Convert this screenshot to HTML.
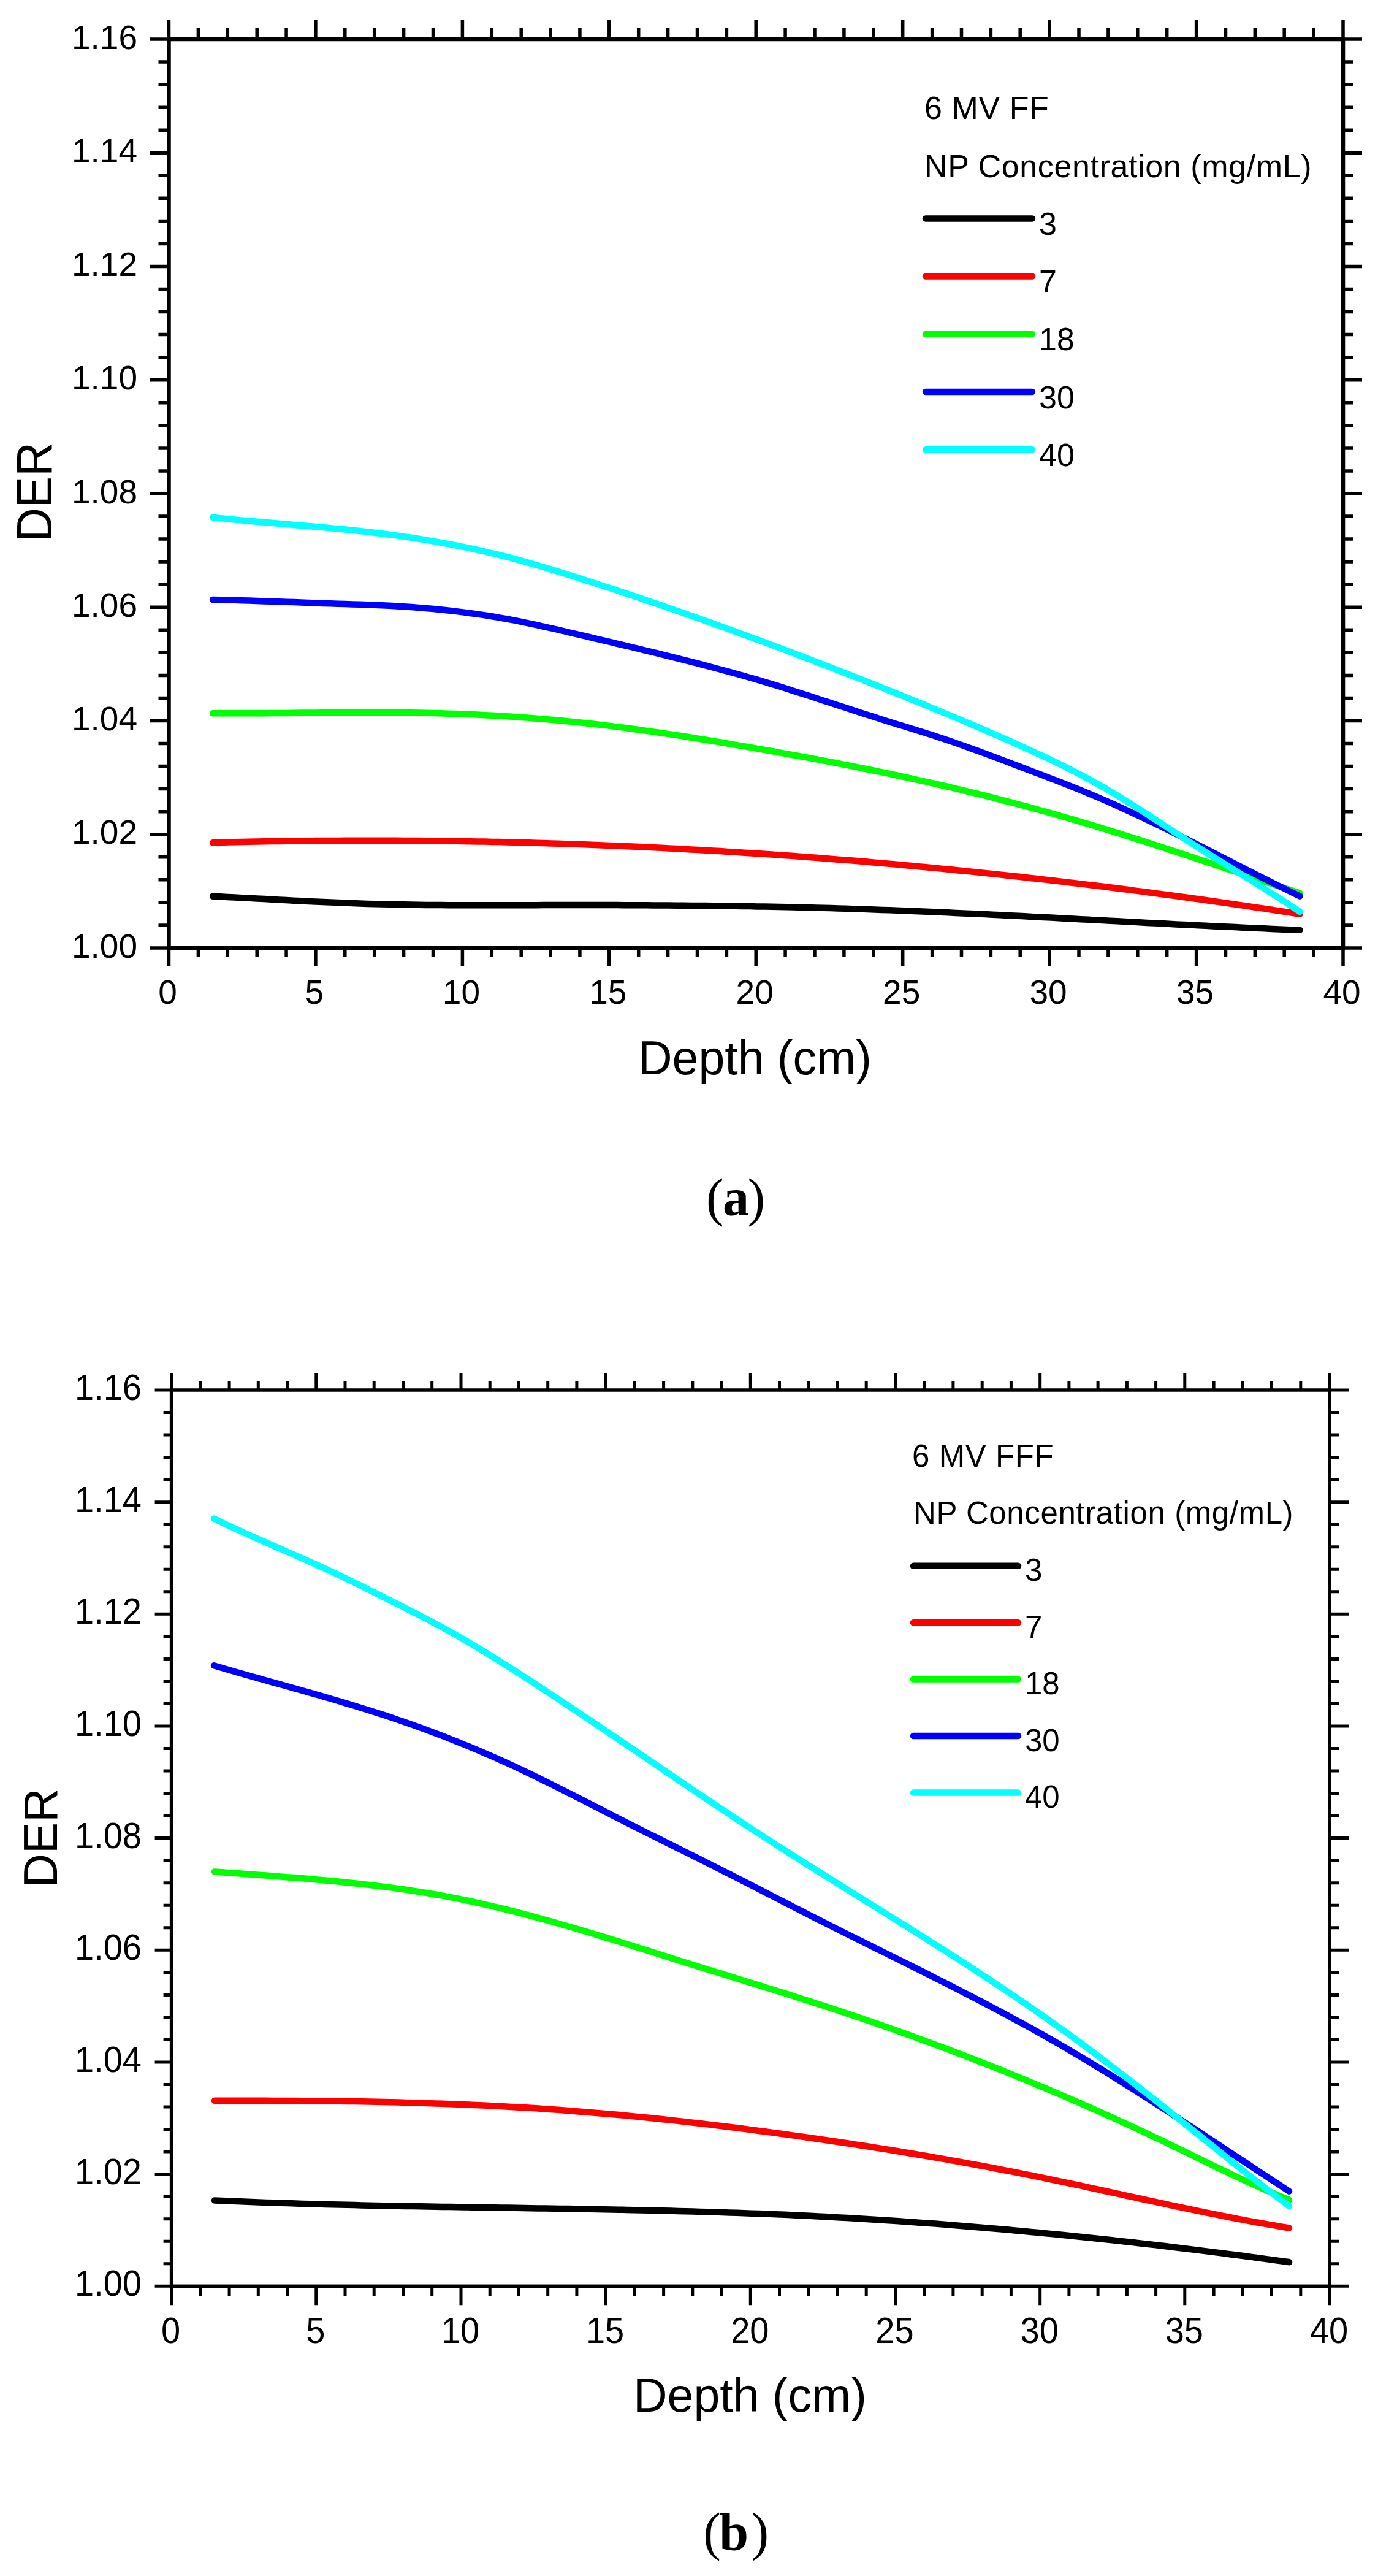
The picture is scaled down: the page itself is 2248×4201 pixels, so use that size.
<!DOCTYPE html>
<html><head><meta charset="utf-8"><title>DER vs Depth</title>
<style>
html,body{margin:0;padding:0;background:#fff;}
svg{display:block;}
text{font-family:"Liberation Sans",Arial,sans-serif;fill:#000;}
</style></head><body>
<svg width="2248" height="4201" viewBox="0 0 2248 4201">
<rect width="100%" height="100%" fill="#fff"/>
<g>
<path d="M275.5 64L275.5 32M275.5 1546L275.5 1575M514.9 64L514.9 32M514.9 1546L514.9 1575M754.4 64L754.4 32M754.4 1546L754.4 1575M993.8 64L993.8 32M993.8 1546L993.8 1575M1233.2 64L1233.2 32M1233.2 1546L1233.2 1575M1472.7 64L1472.7 32M1472.7 1546L1472.7 1575M1712.1 64L1712.1 32M1712.1 1546L1712.1 1575M1951.6 64L1951.6 32M1951.6 1546L1951.6 1575M2191 64L2191 32M2191 1546L2191 1575M275.5 1546L244.5 1546M2191 1546L2222 1546M275.5 1360.7L244.5 1360.7M2191 1360.7L2222 1360.7M275.5 1175.5L244.5 1175.5M2191 1175.5L2222 1175.5M275.5 990.2L244.5 990.2M2191 990.2L2222 990.2M275.5 805L244.5 805M2191 805L2222 805M275.5 619.7L244.5 619.7M2191 619.7L2222 619.7M275.5 434.5L244.5 434.5M2191 434.5L2222 434.5M275.5 249.2L244.5 249.2M2191 249.2L2222 249.2M275.5 64L244.5 64M2191 64L2222 64" stroke="#000" stroke-width="5.5" fill="none"/>
<path d="M323.4 64L323.4 46M323.4 1546L323.4 1560M371.3 64L371.3 46M371.3 1546L371.3 1560M419.2 64L419.2 46M419.2 1546L419.2 1560M467.1 64L467.1 46M467.1 1546L467.1 1560M562.8 64L562.8 46M562.8 1546L562.8 1560M610.7 64L610.7 46M610.7 1546L610.7 1560M658.6 64L658.6 46M658.6 1546L658.6 1560M706.5 64L706.5 46M706.5 1546L706.5 1560M802.3 64L802.3 46M802.3 1546L802.3 1560M850.2 64L850.2 46M850.2 1546L850.2 1560M898 64L898 46M898 1546L898 1560M945.9 64L945.9 46M945.9 1546L945.9 1560M1041.7 64L1041.7 46M1041.7 1546L1041.7 1560M1089.6 64L1089.6 46M1089.6 1546L1089.6 1560M1137.5 64L1137.5 46M1137.5 1546L1137.5 1560M1185.4 64L1185.4 46M1185.4 1546L1185.4 1560M1281.1 64L1281.1 46M1281.1 1546L1281.1 1560M1329 64L1329 46M1329 1546L1329 1560M1376.9 64L1376.9 46M1376.9 1546L1376.9 1560M1424.8 64L1424.8 46M1424.8 1546L1424.8 1560M1520.6 64L1520.6 46M1520.6 1546L1520.6 1560M1568.5 64L1568.5 46M1568.5 1546L1568.5 1560M1616.4 64L1616.4 46M1616.4 1546L1616.4 1560M1664.2 64L1664.2 46M1664.2 1546L1664.2 1560M1760 64L1760 46M1760 1546L1760 1560M1807.9 64L1807.9 46M1807.9 1546L1807.9 1560M1855.8 64L1855.8 46M1855.8 1546L1855.8 1560M1903.7 64L1903.7 46M1903.7 1546L1903.7 1560M1999.5 64L1999.5 46M1999.5 1546L1999.5 1560M2047.3 64L2047.3 46M2047.3 1546L2047.3 1560M2095.2 64L2095.2 46M2095.2 1546L2095.2 1560M2143.1 64L2143.1 46M2143.1 1546L2143.1 1560M275.5 1508.9L258.5 1508.9M2191 1508.9L2207 1508.9M275.5 1471.9L258.5 1471.9M2191 1471.9L2207 1471.9M275.5 1434.8L258.5 1434.8M2191 1434.8L2207 1434.8M275.5 1397.8L258.5 1397.8M2191 1397.8L2207 1397.8M275.5 1323.7L258.5 1323.7M2191 1323.7L2207 1323.7M275.5 1286.6L258.5 1286.6M2191 1286.6L2207 1286.6M275.5 1249.6L258.5 1249.6M2191 1249.6L2207 1249.6M275.5 1212.5L258.5 1212.5M2191 1212.5L2207 1212.5M275.5 1138.4L258.5 1138.4M2191 1138.4L2207 1138.4M275.5 1101.4L258.5 1101.4M2191 1101.4L2207 1101.4M275.5 1064.3L258.5 1064.3M2191 1064.3L2207 1064.3M275.5 1027.3L258.5 1027.3M2191 1027.3L2207 1027.3M275.5 953.2L258.5 953.2M2191 953.2L2207 953.2M275.5 916.1L258.5 916.1M2191 916.1L2207 916.1M275.5 879.1L258.5 879.1M2191 879.1L2207 879.1M275.5 842L258.5 842M2191 842L2207 842M275.5 767.9L258.5 767.9M2191 767.9L2207 767.9M275.5 730.9L258.5 730.9M2191 730.9L2207 730.9M275.5 693.8L258.5 693.8M2191 693.8L2207 693.8M275.5 656.8L258.5 656.8M2191 656.8L2207 656.8M275.5 582.7L258.5 582.7M2191 582.7L2207 582.7M275.5 545.6L258.5 545.6M2191 545.6L2207 545.6M275.5 508.6L258.5 508.6M2191 508.6L2207 508.6M275.5 471.5L258.5 471.5M2191 471.5L2207 471.5M275.5 397.4L258.5 397.4M2191 397.4L2207 397.4M275.5 360.4L258.5 360.4M2191 360.4L2207 360.4M275.5 323.3L258.5 323.3M2191 323.3L2207 323.3M275.5 286.3L258.5 286.3M2191 286.3L2207 286.3M275.5 212.2L258.5 212.2M2191 212.2L2207 212.2M275.5 175.2L258.5 175.2M2191 175.2L2207 175.2M275.5 138.1L258.5 138.1M2191 138.1L2207 138.1M275.5 101.1L258.5 101.1M2191 101.1L2207 101.1" stroke="#000" stroke-width="5.5" fill="none"/>
<rect x="275.5" y="64" width="1915.5" height="1482" fill="none" stroke="#000" stroke-width="6.5"/>
<text transform="translate(224 1561.5) scale(1 1)" text-anchor="end" font-size="55">1.00</text>
<text transform="translate(224 1376.2) scale(1 1)" text-anchor="end" font-size="55">1.02</text>
<text transform="translate(224 1191) scale(1 1)" text-anchor="end" font-size="55">1.04</text>
<text transform="translate(224 1005.7) scale(1 1)" text-anchor="end" font-size="55">1.06</text>
<text transform="translate(224 820.5) scale(1 1)" text-anchor="end" font-size="55">1.08</text>
<text transform="translate(224 635.2) scale(1 1)" text-anchor="end" font-size="55">1.10</text>
<text transform="translate(224 450) scale(1 1)" text-anchor="end" font-size="55">1.12</text>
<text transform="translate(224 264.7) scale(1 1)" text-anchor="end" font-size="55">1.14</text>
<text transform="translate(224 79.5) scale(1 1)" text-anchor="end" font-size="55">1.16</text>
<text transform="translate(273.5 1636.5) scale(1 1)" text-anchor="middle" font-size="55">0</text>
<text transform="translate(512.9 1636.5) scale(1 1)" text-anchor="middle" font-size="55">5</text>
<text transform="translate(752.4 1636.5) scale(1 1)" text-anchor="middle" font-size="55">10</text>
<text transform="translate(991.8 1636.5) scale(1 1)" text-anchor="middle" font-size="55">15</text>
<text transform="translate(1231.2 1636.5) scale(1 1)" text-anchor="middle" font-size="55">20</text>
<text transform="translate(1470.7 1636.5) scale(1 1)" text-anchor="middle" font-size="55">25</text>
<text transform="translate(1710.1 1636.5) scale(1 1)" text-anchor="middle" font-size="55">30</text>
<text transform="translate(1949.6 1636.5) scale(1 1)" text-anchor="middle" font-size="55">35</text>
<text transform="translate(2189 1636.5) scale(1 1)" text-anchor="middle" font-size="55">40</text>
<text x="1041" y="1752" font-size="77">Depth (cm)</text>
<text transform="translate(84.3 883.8) rotate(-90) scale(0.976 1.03)" font-size="79">DER</text>
<text x="1508" y="194" font-size="52" textLength="202.8" lengthAdjust="spacing">6 MV FF</text>
<text x="1508" y="289" font-size="52" textLength="631.5" lengthAdjust="spacing">NP Concentration (mg/mL)</text>
<path d="M1510 356.4H1684" stroke="#000000" stroke-width="10.5" stroke-linecap="round"/>
<text x="1695" y="382.9" font-size="52">3</text>
<path d="M1510 450.6H1684" stroke="#ff0000" stroke-width="10.5" stroke-linecap="round"/>
<text x="1695" y="477.1" font-size="52">7</text>
<path d="M1510 544.8H1684" stroke="#00ff00" stroke-width="10.5" stroke-linecap="round"/>
<text x="1695" y="571.3" font-size="52">18</text>
<path d="M1510 639H1684" stroke="#0000ff" stroke-width="10.5" stroke-linecap="round"/>
<text x="1695" y="665.5" font-size="52">30</text>
<path d="M1510 733.2H1684" stroke="#00ffff" stroke-width="10.5" stroke-linecap="round"/>
<text x="1695" y="759.7" font-size="52">40</text>
<path d="M347 1461.7L359 1462.3L371 1462.9L383 1463.5L395 1464.2L407 1464.8L419 1465.5L431 1466.1L443 1466.8L455 1467.4L467 1468.1L479 1468.7L491 1469.3L503 1469.9L515 1470.5L527 1471L539 1471.6L551 1472.1L563 1472.6L575 1473L587 1473.5L599 1473.9L611 1474.2L623 1474.5L635 1474.8L647 1475.1L659 1475.3L671 1475.5L683 1475.7L695 1475.9L707 1476L719 1476.1L731 1476.2L743 1476.2L755 1476.3L767 1476.3L779 1476.3L791 1476.3L803 1476.3L815 1476.3L827 1476.3L839 1476.3L851 1476.2L863 1476.2L875 1476.2L887 1476.1L899 1476.1L911 1476.1L923 1476.1L935 1476.1L947 1476.1L959 1476.1L971 1476.1L983 1476.1L995 1476.1L1007 1476.1L1019 1476.2L1031 1476.2L1043 1476.3L1055 1476.3L1067 1476.4L1079 1476.5L1091 1476.6L1103 1476.7L1115 1476.8L1127 1476.9L1139 1477L1151 1477.1L1163 1477.3L1175 1477.4L1187 1477.6L1199 1477.8L1211 1478L1223 1478.1L1235 1478.4L1247 1478.6L1259 1478.8L1271 1479L1283 1479.3L1295 1479.6L1307 1479.9L1319 1480.1L1331 1480.5L1343 1480.8L1355 1481.1L1367 1481.5L1379 1481.8L1391 1482.2L1403 1482.6L1415 1483L1427 1483.4L1439 1483.9L1451 1484.3L1463 1484.8L1475 1485.2L1487 1485.7L1499 1486.2L1511 1486.7L1523 1487.2L1535 1487.8L1547 1488.3L1559 1488.9L1571 1489.4L1583 1490L1595 1490.5L1607 1491.1L1619 1491.7L1631 1492.3L1643 1492.9L1655 1493.5L1667 1494.1L1679 1494.7L1691 1495.4L1703 1496L1715 1496.6L1727 1497.2L1739 1497.9L1751 1498.5L1763 1499.2L1775 1499.8L1787 1500.4L1799 1501.1L1811 1501.7L1823 1502.3L1835 1503L1847 1503.6L1859 1504.3L1871 1504.9L1883 1505.5L1895 1506.1L1907 1506.8L1919 1507.4L1931 1508L1943 1508.6L1955 1509.2L1967 1509.8L1979 1510.4L1991 1511L2003 1511.6L2015 1512.1L2027 1512.7L2039 1513.3L2051 1513.8L2063 1514.3L2075 1514.9L2087 1515.4L2099 1515.9L2111 1516.4L2120.5 1516.7" stroke="#000000" stroke-width="10.5" fill="none" stroke-linecap="round" stroke-linejoin="round"/>
<path d="M347 1374.3L359 1373.9L371 1373.6L383 1373.3L395 1373L407 1372.8L419 1372.5L431 1372.3L443 1372.1L455 1371.9L467 1371.7L479 1371.5L491 1371.4L503 1371.3L515 1371.1L527 1371L539 1370.9L551 1370.9L563 1370.8L575 1370.8L587 1370.7L599 1370.7L611 1370.7L623 1370.7L635 1370.8L647 1370.8L659 1370.9L671 1371L683 1371.1L695 1371.2L707 1371.3L719 1371.4L731 1371.6L743 1371.8L755 1372L767 1372.2L779 1372.4L791 1372.6L803 1372.9L815 1373.1L827 1373.4L839 1373.7L851 1374L863 1374.3L875 1374.7L887 1375L899 1375.4L911 1375.8L923 1376.2L935 1376.6L947 1377.1L959 1377.5L971 1378L983 1378.4L995 1378.9L1007 1379.4L1019 1380L1031 1380.5L1043 1381.1L1055 1381.6L1067 1382.2L1079 1382.8L1091 1383.4L1103 1384.1L1115 1384.7L1127 1385.4L1139 1386L1151 1386.7L1163 1387.4L1175 1388.1L1187 1388.9L1199 1389.6L1211 1390.4L1223 1391.2L1235 1392L1247 1392.8L1259 1393.6L1271 1394.4L1283 1395.3L1295 1396.1L1307 1397L1319 1397.9L1331 1398.8L1343 1399.8L1355 1400.7L1367 1401.7L1379 1402.6L1391 1403.6L1403 1404.6L1415 1405.6L1427 1406.7L1439 1407.7L1451 1408.8L1463 1409.8L1475 1410.9L1487 1412L1499 1413.2L1511 1414.3L1523 1415.4L1535 1416.6L1547 1417.8L1559 1419L1571 1420.2L1583 1421.4L1595 1422.6L1607 1423.9L1619 1425.1L1631 1426.4L1643 1427.7L1655 1429L1667 1430.3L1679 1431.7L1691 1433L1703 1434.4L1715 1435.8L1727 1437.1L1739 1438.6L1751 1440L1763 1441.4L1775 1442.9L1787 1444.3L1799 1445.8L1811 1447.3L1823 1448.8L1835 1450.3L1847 1451.9L1859 1453.4L1871 1455L1883 1456.6L1895 1458.2L1907 1459.8L1919 1461.4L1931 1463L1943 1464.7L1955 1466.3L1967 1468L1979 1469.7L1991 1471.4L2003 1473.1L2015 1474.9L2027 1476.6L2039 1478.4L2051 1480.2L2063 1481.9L2075 1483.8L2087 1485.6L2099 1487.4L2111 1489.2L2120.5 1490.7" stroke="#ff0000" stroke-width="10.5" fill="none" stroke-linecap="round" stroke-linejoin="round"/>
<path d="M347 1163.2L359 1163.3L371 1163.3L383 1163.3L395 1163.3L407 1163.3L419 1163.3L431 1163.2L443 1163.1L455 1163L467 1162.9L479 1162.8L491 1162.6L503 1162.5L515 1162.4L527 1162.3L539 1162.1L551 1162L563 1162L575 1161.9L587 1161.8L599 1161.8L611 1161.8L623 1161.8L635 1161.9L647 1162L659 1162.1L671 1162.3L683 1162.5L695 1162.7L707 1163L719 1163.3L731 1163.7L743 1164.1L755 1164.6L767 1165.1L779 1165.6L791 1166.2L803 1166.8L815 1167.5L827 1168.3L839 1169L851 1169.9L863 1170.8L875 1171.7L887 1172.7L899 1173.7L911 1174.8L923 1175.9L935 1177.1L947 1178.4L959 1179.7L971 1181L983 1182.4L995 1183.9L1007 1185.4L1019 1186.9L1031 1188.5L1043 1190.2L1055 1191.9L1067 1193.6L1079 1195.3L1091 1197.1L1103 1198.9L1115 1200.8L1127 1202.7L1139 1204.6L1151 1206.5L1163 1208.5L1175 1210.5L1187 1212.5L1199 1214.6L1211 1216.6L1223 1218.7L1235 1220.8L1247 1222.9L1259 1225L1271 1227.2L1283 1229.3L1295 1231.5L1307 1233.7L1319 1235.9L1331 1238.2L1343 1240.4L1355 1242.7L1367 1245L1379 1247.4L1391 1249.7L1403 1252.1L1415 1254.5L1427 1257L1439 1259.4L1451 1261.9L1463 1264.5L1475 1267.1L1487 1269.7L1499 1272.3L1511 1275L1523 1277.7L1535 1280.4L1547 1283.2L1559 1286L1571 1288.9L1583 1291.8L1595 1294.7L1607 1297.7L1619 1300.7L1631 1303.8L1643 1306.9L1655 1310L1667 1313.2L1679 1316.4L1691 1319.7L1703 1323L1715 1326.3L1727 1329.7L1739 1333.2L1751 1336.6L1763 1340.2L1775 1343.8L1787 1347.4L1799 1351L1811 1354.7L1823 1358.4L1835 1362.2L1847 1366L1859 1369.8L1871 1373.7L1883 1377.5L1895 1381.4L1907 1385.4L1919 1389.3L1931 1393.3L1943 1397.2L1955 1401.2L1967 1405.2L1979 1409.2L1991 1413.3L2003 1417.3L2015 1421.3L2027 1425.4L2039 1429.4L2051 1433.5L2063 1437.5L2075 1441.6L2087 1445.6L2099 1449.6L2111 1453.6L2120.5 1456.8" stroke="#00ff00" stroke-width="10.5" fill="none" stroke-linecap="round" stroke-linejoin="round"/>
<path d="M347 977.9L359 978.2L371 978.5L383 978.8L395 979.2L407 979.5L419 979.9L431 980.4L443 980.8L455 981.2L467 981.7L479 982.1L491 982.6L503 983L515 983.5L527 983.9L539 984.3L551 984.7L563 985L575 985.4L587 985.8L599 986.3L611 986.7L623 987.2L635 987.8L647 988.5L659 989.2L671 990L683 990.9L695 991.9L707 993L719 994.2L731 995.5L743 996.9L755 998.4L767 1000L779 1001.6L791 1003.4L803 1005.3L815 1007.4L827 1009.5L839 1011.7L851 1014.1L863 1016.6L875 1019.1L887 1021.8L899 1024.5L911 1027.2L923 1030L935 1032.8L947 1035.6L959 1038.4L971 1041.3L983 1044.1L995 1046.9L1007 1049.8L1019 1052.6L1031 1055.5L1043 1058.4L1055 1061.3L1067 1064.2L1079 1067.1L1091 1070.1L1103 1073.1L1115 1076.1L1127 1079.1L1139 1082.2L1151 1085.3L1163 1088.5L1175 1091.7L1187 1094.9L1199 1098.2L1211 1101.5L1223 1105L1235 1108.4L1247 1112L1259 1115.6L1271 1119.3L1283 1123.1L1295 1126.9L1307 1130.7L1319 1134.6L1331 1138.5L1343 1142.4L1355 1146.3L1367 1150.2L1379 1154.1L1391 1158.1L1403 1161.9L1415 1165.8L1427 1169.6L1439 1173.4L1451 1177.2L1463 1180.9L1475 1184.6L1487 1188.3L1499 1192L1511 1195.7L1523 1199.6L1535 1203.5L1547 1207.5L1559 1211.6L1571 1215.9L1583 1220.2L1595 1224.5L1607 1228.9L1619 1233.4L1631 1237.9L1643 1242.4L1655 1247L1667 1251.5L1679 1256.1L1691 1260.6L1703 1265.2L1715 1269.8L1727 1274.4L1739 1279.1L1751 1283.9L1763 1288.7L1775 1293.6L1787 1298.6L1799 1303.8L1811 1309L1823 1314.4L1835 1319.9L1847 1325.4L1859 1331.1L1871 1336.8L1883 1342.5L1895 1348.4L1907 1354.3L1919 1360.2L1931 1366.2L1943 1372.3L1955 1378.3L1967 1384.4L1979 1390.5L1991 1396.6L2003 1402.7L2015 1408.9L2027 1415L2039 1421.1L2051 1427.1L2063 1433.2L2075 1439.2L2087 1445.1L2099 1451.1L2111 1456.9L2120.5 1461.5" stroke="#0000ff" stroke-width="10.5" fill="none" stroke-linecap="round" stroke-linejoin="round"/>
<path d="M347 843.8L359 845.1L371 846.3L383 847.4L395 848.6L407 849.6L419 850.7L431 851.8L443 852.8L455 853.8L467 854.8L479 855.9L491 856.9L503 857.9L515 859L527 860.1L539 861.2L551 862.4L563 863.5L575 864.8L587 866L599 867.4L611 868.8L623 870.2L635 871.8L647 873.4L659 875.1L671 876.8L683 878.7L695 880.6L707 882.6L719 884.8L731 887L743 889.3L755 891.7L767 894.2L779 896.8L791 899.5L803 902.3L815 905.2L827 908.2L839 911.4L851 914.6L863 918L875 921.5L887 925L899 928.6L911 932.3L923 936L935 939.8L947 943.6L959 947.5L971 951.3L983 955.2L995 959.1L1007 963.1L1019 967.1L1031 971.1L1043 975.1L1055 979.2L1067 983.2L1079 987.3L1091 991.5L1103 995.6L1115 999.8L1127 1004L1139 1008.3L1151 1012.5L1163 1016.8L1175 1021.1L1187 1025.4L1199 1029.8L1211 1034.2L1223 1038.6L1235 1043L1247 1047.4L1259 1051.9L1271 1056.4L1283 1060.9L1295 1065.4L1307 1070L1319 1074.6L1331 1079.2L1343 1083.8L1355 1088.4L1367 1093.1L1379 1097.8L1391 1102.5L1403 1107.2L1415 1111.9L1427 1116.7L1439 1121.5L1451 1126.3L1463 1131.1L1475 1135.9L1487 1140.8L1499 1145.7L1511 1150.6L1523 1155.5L1535 1160.5L1547 1165.5L1559 1170.5L1571 1175.5L1583 1180.6L1595 1185.7L1607 1190.9L1619 1196.1L1631 1201.3L1643 1206.6L1655 1211.9L1667 1217.3L1679 1222.7L1691 1228.2L1703 1233.8L1715 1239.5L1727 1245.3L1739 1251.3L1751 1257.4L1763 1263.6L1775 1270L1787 1276.6L1799 1283.4L1811 1290.3L1823 1297.5L1835 1304.9L1847 1312.4L1859 1320L1871 1327.7L1883 1335.5L1895 1343.3L1907 1351.2L1919 1359L1931 1366.8L1943 1374.6L1955 1382.2L1967 1389.8L1979 1397.3L1991 1404.8L2003 1412.3L2015 1419.7L2027 1427.1L2039 1434.6L2051 1442.1L2063 1449.6L2075 1457.2L2087 1464.9L2099 1472.7L2111 1480.6L2120.5 1486.9" stroke="#00ffff" stroke-width="10.5" fill="none" stroke-linecap="round" stroke-linejoin="round"/>
<text y="1981.5" style="font-family:'Liberation Serif',serif" font-size="86"><tspan x="1151.9">(</tspan><tspan x="1179" font-weight="bold">a</tspan><tspan x="1219.5">)</tspan></text>
</g>
<g>
<path d="M279.6 2267L279.6 2239M279.6 3728.3L279.6 3759.3M515.8 2267L515.8 2239M515.8 3728.3L515.8 3759.3M752 2267L752 2239M752 3728.3L752 3759.3M988.1 2267L988.1 2239M988.1 3728.3L988.1 3759.3M1224.3 2267L1224.3 2239M1224.3 3728.3L1224.3 3759.3M1460.5 2267L1460.5 2239M1460.5 3728.3L1460.5 3759.3M1696.7 2267L1696.7 2239M1696.7 3728.3L1696.7 3759.3M1932.8 2267L1932.8 2239M1932.8 3728.3L1932.8 3759.3M2169 2267L2169 2239M2169 3728.3L2169 3759.3M279.6 3728.3L252.6 3728.3M2169 3728.3L2200 3728.3M279.6 3545.6L252.6 3545.6M2169 3545.6L2200 3545.6M279.6 3363L252.6 3363M2169 3363L2200 3363M279.6 3180.3L252.6 3180.3M2169 3180.3L2200 3180.3M279.6 2997.6L252.6 2997.6M2169 2997.6L2200 2997.6M279.6 2815L252.6 2815M2169 2815L2200 2815M279.6 2632.3L252.6 2632.3M2169 2632.3L2200 2632.3M279.6 2449.7L252.6 2449.7M2169 2449.7L2200 2449.7M279.6 2267L252.6 2267M2169 2267L2200 2267" stroke="#000" stroke-width="5" fill="none"/>
<path d="M326.8 2267L326.8 2252M326.8 3728.3L326.8 3744.3M374.1 2267L374.1 2252M374.1 3728.3L374.1 3744.3M421.3 2267L421.3 2252M421.3 3728.3L421.3 3744.3M468.5 2267L468.5 2252M468.5 3728.3L468.5 3744.3M563 2267L563 2252M563 3728.3L563 3744.3M610.2 2267L610.2 2252M610.2 3728.3L610.2 3744.3M657.5 2267L657.5 2252M657.5 3728.3L657.5 3744.3M704.7 2267L704.7 2252M704.7 3728.3L704.7 3744.3M799.2 2267L799.2 2252M799.2 3728.3L799.2 3744.3M846.4 2267L846.4 2252M846.4 3728.3L846.4 3744.3M893.7 2267L893.7 2252M893.7 3728.3L893.7 3744.3M940.9 2267L940.9 2252M940.9 3728.3L940.9 3744.3M1035.4 2267L1035.4 2252M1035.4 3728.3L1035.4 3744.3M1082.6 2267L1082.6 2252M1082.6 3728.3L1082.6 3744.3M1129.8 2267L1129.8 2252M1129.8 3728.3L1129.8 3744.3M1177.1 2267L1177.1 2252M1177.1 3728.3L1177.1 3744.3M1271.5 2267L1271.5 2252M1271.5 3728.3L1271.5 3744.3M1318.8 2267L1318.8 2252M1318.8 3728.3L1318.8 3744.3M1366 2267L1366 2252M1366 3728.3L1366 3744.3M1413.2 2267L1413.2 2252M1413.2 3728.3L1413.2 3744.3M1507.7 2267L1507.7 2252M1507.7 3728.3L1507.7 3744.3M1554.9 2267L1554.9 2252M1554.9 3728.3L1554.9 3744.3M1602.2 2267L1602.2 2252M1602.2 3728.3L1602.2 3744.3M1649.4 2267L1649.4 2252M1649.4 3728.3L1649.4 3744.3M1743.9 2267L1743.9 2252M1743.9 3728.3L1743.9 3744.3M1791.1 2267L1791.1 2252M1791.1 3728.3L1791.1 3744.3M1838.4 2267L1838.4 2252M1838.4 3728.3L1838.4 3744.3M1885.6 2267L1885.6 2252M1885.6 3728.3L1885.6 3744.3M1980.1 2267L1980.1 2252M1980.1 3728.3L1980.1 3744.3M2027.3 2267L2027.3 2252M2027.3 3728.3L2027.3 3744.3M2074.5 2267L2074.5 2252M2074.5 3728.3L2074.5 3744.3M2121.8 2267L2121.8 2252M2121.8 3728.3L2121.8 3744.3M279.6 3691.8L266.6 3691.8M2169 3691.8L2185 3691.8M279.6 3655.2L266.6 3655.2M2169 3655.2L2185 3655.2M279.6 3618.7L266.6 3618.7M2169 3618.7L2185 3618.7M279.6 3582.2L266.6 3582.2M2169 3582.2L2185 3582.2M279.6 3509.1L266.6 3509.1M2169 3509.1L2185 3509.1M279.6 3472.6L266.6 3472.6M2169 3472.6L2185 3472.6M279.6 3436L266.6 3436M2169 3436L2185 3436M279.6 3399.5L266.6 3399.5M2169 3399.5L2185 3399.5M279.6 3326.4L266.6 3326.4M2169 3326.4L2185 3326.4M279.6 3289.9L266.6 3289.9M2169 3289.9L2185 3289.9M279.6 3253.4L266.6 3253.4M2169 3253.4L2185 3253.4M279.6 3216.8L266.6 3216.8M2169 3216.8L2185 3216.8M279.6 3143.8L266.6 3143.8M2169 3143.8L2185 3143.8M279.6 3107.2L266.6 3107.2M2169 3107.2L2185 3107.2M279.6 3070.7L266.6 3070.7M2169 3070.7L2185 3070.7M279.6 3034.2L266.6 3034.2M2169 3034.2L2185 3034.2M279.6 2961.1L266.6 2961.1M2169 2961.1L2185 2961.1M279.6 2924.6L266.6 2924.6M2169 2924.6L2185 2924.6M279.6 2888.1L266.6 2888.1M2169 2888.1L2185 2888.1M279.6 2851.5L266.6 2851.5M2169 2851.5L2185 2851.5M279.6 2778.5L266.6 2778.5M2169 2778.5L2185 2778.5M279.6 2741.9L266.6 2741.9M2169 2741.9L2185 2741.9M279.6 2705.4L266.6 2705.4M2169 2705.4L2185 2705.4M279.6 2668.9L266.6 2668.9M2169 2668.9L2185 2668.9M279.6 2595.8L266.6 2595.8M2169 2595.8L2185 2595.8M279.6 2559.3L266.6 2559.3M2169 2559.3L2185 2559.3M279.6 2522.7L266.6 2522.7M2169 2522.7L2185 2522.7M279.6 2486.2L266.6 2486.2M2169 2486.2L2185 2486.2M279.6 2413.1L266.6 2413.1M2169 2413.1L2185 2413.1M279.6 2376.6L266.6 2376.6M2169 2376.6L2185 2376.6M279.6 2340.1L266.6 2340.1M2169 2340.1L2185 2340.1M279.6 2303.5L266.6 2303.5M2169 2303.5L2185 2303.5" stroke="#000" stroke-width="5" fill="none"/>
<rect x="279.6" y="2267" width="1889.4" height="1461.3" fill="none" stroke="#000" stroke-width="5.5"/>
<text transform="translate(231 3744.3) scale(1 1.06)" text-anchor="end" font-size="56">1.00</text>
<text transform="translate(231 3561.6) scale(1 1.06)" text-anchor="end" font-size="56">1.02</text>
<text transform="translate(231 3379) scale(1 1.06)" text-anchor="end" font-size="56">1.04</text>
<text transform="translate(231 3196.3) scale(1 1.06)" text-anchor="end" font-size="56">1.06</text>
<text transform="translate(231 3013.6) scale(1 1.06)" text-anchor="end" font-size="56">1.08</text>
<text transform="translate(231 2831) scale(1 1.06)" text-anchor="end" font-size="56">1.10</text>
<text transform="translate(231 2648.3) scale(1 1.06)" text-anchor="end" font-size="56">1.12</text>
<text transform="translate(231 2465.7) scale(1 1.06)" text-anchor="end" font-size="56">1.14</text>
<text transform="translate(231 2283) scale(1 1.06)" text-anchor="end" font-size="56">1.16</text>
<text transform="translate(278.6 3821) scale(1 1.06)" text-anchor="middle" font-size="56">0</text>
<text transform="translate(514.8 3821) scale(1 1.06)" text-anchor="middle" font-size="56">5</text>
<text transform="translate(751 3821) scale(1 1.06)" text-anchor="middle" font-size="56">10</text>
<text transform="translate(987.1 3821) scale(1 1.06)" text-anchor="middle" font-size="56">15</text>
<text transform="translate(1223.3 3821) scale(1 1.06)" text-anchor="middle" font-size="56">20</text>
<text transform="translate(1459.5 3821) scale(1 1.06)" text-anchor="middle" font-size="56">25</text>
<text transform="translate(1695.7 3821) scale(1 1.06)" text-anchor="middle" font-size="56">30</text>
<text transform="translate(1931.8 3821) scale(1 1.06)" text-anchor="middle" font-size="56">35</text>
<text transform="translate(2168 3821) scale(1 1.06)" text-anchor="middle" font-size="56">40</text>
<text x="1033" y="3933.3" font-size="77">Depth (cm)</text>
<text transform="translate(92.7 3078.4) rotate(-90) scale(1.023 1.035)" font-size="75">DER</text>
<text x="1488" y="2391.6" font-size="51" textLength="230.7" lengthAdjust="spacing">6 MV FFF</text>
<text x="1490" y="2485.3" font-size="51" textLength="619.6" lengthAdjust="spacing">NP Concentration (mg/mL)</text>
<path d="M1490 2553.8H1661" stroke="#000000" stroke-width="10.5" stroke-linecap="round"/>
<text x="1672" y="2578.4" font-size="51">3</text>
<path d="M1490 2646.2H1661" stroke="#ff0000" stroke-width="10.5" stroke-linecap="round"/>
<text x="1672" y="2670.8" font-size="51">7</text>
<path d="M1490 2738.6H1661" stroke="#00ff00" stroke-width="10.5" stroke-linecap="round"/>
<text x="1672" y="2763.2" font-size="51">18</text>
<path d="M1490 2831H1661" stroke="#0000ff" stroke-width="10.5" stroke-linecap="round"/>
<text x="1672" y="2855.6" font-size="51">30</text>
<path d="M1490 2923.4H1661" stroke="#00ffff" stroke-width="10.5" stroke-linecap="round"/>
<text x="1672" y="2948" font-size="51">40</text>
<path d="M350 3588.4L362 3589L374 3589.5L386 3590L398 3590.5L410 3591L422 3591.4L434 3591.9L446 3592.3L458 3592.7L470 3593.1L482 3593.5L494 3593.9L506 3594.2L518 3594.6L530 3594.9L542 3595.2L554 3595.5L566 3595.8L578 3596.1L590 3596.4L602 3596.7L614 3596.9L626 3597.2L638 3597.4L650 3597.7L662 3597.9L674 3598.1L686 3598.3L698 3598.5L710 3598.8L722 3599L734 3599.1L746 3599.3L758 3599.5L770 3599.7L782 3599.9L794 3600.1L806 3600.3L818 3600.5L830 3600.6L842 3600.8L854 3601L866 3601.2L878 3601.4L890 3601.6L902 3601.7L914 3601.9L926 3602.1L938 3602.3L950 3602.5L962 3602.8L974 3603L986 3603.2L998 3603.4L1010 3603.7L1022 3603.9L1034 3604.2L1046 3604.4L1058 3604.7L1070 3605L1082 3605.2L1094 3605.5L1106 3605.9L1118 3606.2L1130 3606.5L1142 3606.9L1154 3607.2L1166 3607.6L1178 3608L1190 3608.4L1202 3608.8L1214 3609.2L1226 3609.7L1238 3610.1L1250 3610.6L1262 3611.1L1274 3611.6L1286 3612.1L1298 3612.7L1310 3613.2L1322 3613.8L1334 3614.4L1346 3615.1L1358 3615.7L1370 3616.4L1382 3617L1394 3617.7L1406 3618.5L1418 3619.2L1430 3620L1442 3620.7L1454 3621.5L1466 3622.3L1478 3623.2L1490 3624L1502 3624.9L1514 3625.7L1526 3626.6L1538 3627.6L1550 3628.5L1562 3629.4L1574 3630.4L1586 3631.4L1598 3632.4L1610 3633.4L1622 3634.5L1634 3635.5L1646 3636.6L1658 3637.7L1670 3638.8L1682 3639.9L1694 3641L1706 3642.2L1718 3643.4L1730 3644.5L1742 3645.8L1754 3647L1766 3648.2L1778 3649.5L1790 3650.7L1802 3652L1814 3653.3L1826 3654.6L1838 3656L1850 3657.3L1862 3658.7L1874 3660L1886 3661.4L1898 3662.8L1910 3664.3L1922 3665.7L1934 3667.2L1946 3668.6L1958 3670.1L1970 3671.6L1982 3673.1L1994 3674.6L2006 3676.2L2018 3677.7L2030 3679.3L2042 3680.9L2054 3682.5L2066 3684.1L2078 3685.7L2090 3687.4L2102 3689L2103 3689.2" stroke="#000000" stroke-width="10.5" fill="none" stroke-linecap="round" stroke-linejoin="round"/>
<path d="M350 3425.8L362 3425.8L374 3425.8L386 3425.8L398 3425.8L410 3425.8L422 3425.8L434 3425.8L446 3425.9L458 3425.9L470 3426L482 3426.1L494 3426.2L506 3426.3L518 3426.4L530 3426.5L542 3426.6L554 3426.8L566 3427L578 3427.1L590 3427.3L602 3427.6L614 3427.8L626 3428L638 3428.3L650 3428.6L662 3428.9L674 3429.3L686 3429.6L698 3430L710 3430.4L722 3430.8L734 3431.2L746 3431.7L758 3432.2L770 3432.7L782 3433.3L794 3433.8L806 3434.4L818 3435.1L830 3435.7L842 3436.4L854 3437.1L866 3437.8L878 3438.6L890 3439.4L902 3440.2L914 3441.1L926 3442L938 3442.9L950 3443.9L962 3444.9L974 3445.9L986 3446.9L998 3448L1010 3449.1L1022 3450.2L1034 3451.4L1046 3452.6L1058 3453.8L1070 3455L1082 3456.3L1094 3457.6L1106 3458.9L1118 3460.2L1130 3461.6L1142 3463L1154 3464.4L1166 3465.9L1178 3467.3L1190 3468.8L1202 3470.3L1214 3471.8L1226 3473.4L1238 3475L1250 3476.5L1262 3478.1L1274 3479.8L1286 3481.4L1298 3483.1L1310 3484.8L1322 3486.5L1334 3488.2L1346 3490L1358 3491.7L1370 3493.5L1382 3495.3L1394 3497.1L1406 3499L1418 3500.8L1430 3502.7L1442 3504.6L1454 3506.5L1466 3508.5L1478 3510.5L1490 3512.5L1502 3514.5L1514 3516.5L1526 3518.6L1538 3520.7L1550 3522.8L1562 3524.9L1574 3527.1L1586 3529.3L1598 3531.5L1610 3533.7L1622 3536L1634 3538.3L1646 3540.6L1658 3542.9L1670 3545.3L1682 3547.7L1694 3550.1L1706 3552.6L1718 3555.1L1730 3557.6L1742 3560.1L1754 3562.6L1766 3565.2L1778 3567.8L1790 3570.4L1802 3573L1814 3575.6L1826 3578.2L1838 3580.8L1850 3583.4L1862 3586L1874 3588.6L1886 3591.2L1898 3593.7L1910 3596.3L1922 3598.8L1934 3601.4L1946 3603.9L1958 3606.3L1970 3608.8L1982 3611.2L1994 3613.6L2006 3616L2018 3618.3L2030 3620.6L2042 3622.8L2054 3625L2066 3627.1L2078 3629.2L2090 3631.3L2102 3633.2L2103 3633.4" stroke="#ff0000" stroke-width="10.5" fill="none" stroke-linecap="round" stroke-linejoin="round"/>
<path d="M350 3052.4L362 3053.3L374 3054.2L386 3055.1L398 3055.9L410 3056.8L422 3057.7L434 3058.6L446 3059.5L458 3060.4L470 3061.4L482 3062.3L494 3063.3L506 3064.3L518 3065.4L530 3066.5L542 3067.6L554 3068.8L566 3070L578 3071.2L590 3072.6L602 3073.9L614 3075.4L626 3076.9L638 3078.4L650 3080.1L662 3081.8L674 3083.6L686 3085.5L698 3087.4L710 3089.5L722 3091.6L734 3093.8L746 3096.2L758 3098.6L770 3101.1L782 3103.8L794 3106.5L806 3109.3L818 3112.2L830 3115.1L842 3118.2L854 3121.3L866 3124.4L878 3127.7L890 3131L902 3134.3L914 3137.7L926 3141.2L938 3144.7L950 3148.2L962 3151.8L974 3155.5L986 3159.1L998 3162.8L1010 3166.5L1022 3170.2L1034 3174L1046 3177.8L1058 3181.5L1070 3185.3L1082 3189.1L1094 3192.9L1106 3196.7L1118 3200.4L1130 3204.2L1142 3208L1154 3211.7L1166 3215.4L1178 3219.1L1190 3222.8L1202 3226.5L1214 3230.2L1226 3233.9L1238 3237.6L1250 3241.4L1262 3245.1L1274 3248.8L1286 3252.6L1298 3256.4L1310 3260.2L1322 3264L1334 3267.9L1346 3271.8L1358 3275.7L1370 3279.7L1382 3283.7L1394 3287.7L1406 3291.8L1418 3295.9L1430 3300L1442 3304.2L1454 3308.4L1466 3312.7L1478 3317L1490 3321.3L1502 3325.7L1514 3330.1L1526 3334.5L1538 3339L1550 3343.5L1562 3348.1L1574 3352.7L1586 3357.3L1598 3362L1610 3366.7L1622 3371.4L1634 3376.2L1646 3381.1L1658 3385.9L1670 3390.8L1682 3395.8L1694 3400.8L1706 3405.8L1718 3410.9L1730 3416L1742 3421.2L1754 3426.4L1766 3431.6L1778 3436.9L1790 3442.2L1802 3447.6L1814 3453L1826 3458.5L1838 3464L1850 3469.5L1862 3475.1L1874 3480.7L1886 3486.4L1898 3492.1L1910 3497.9L1922 3503.7L1934 3509.5L1946 3515.4L1958 3521.2L1970 3527.1L1982 3532.9L1994 3538.7L2006 3544.5L2018 3550.2L2030 3555.8L2042 3561.3L2054 3566.7L2066 3572.1L2078 3577.2L2090 3582.3L2102 3587.2L2103 3587.6" stroke="#00ff00" stroke-width="10.5" fill="none" stroke-linecap="round" stroke-linejoin="round"/>
<path d="M349 2716.3L361 2719.8L373 2723.3L385 2726.7L397 2730.1L409 2733.5L421 2736.9L433 2740.2L445 2743.6L457 2746.9L469 2750.3L481 2753.6L493 2757L505 2760.4L517 2763.8L529 2767.3L541 2770.8L553 2774.3L565 2777.9L577 2781.5L589 2785.2L601 2788.9L613 2792.7L625 2796.6L637 2800.5L649 2804.6L661 2808.7L673 2812.9L685 2817.2L697 2821.6L709 2826.1L721 2830.7L733 2835.3L745 2840.1L757 2845L769 2849.9L781 2854.9L793 2860.1L805 2865.3L817 2870.6L829 2876.1L841 2881.6L853 2887.2L865 2893L877 2898.8L889 2904.7L901 2910.6L913 2916.6L925 2922.7L937 2928.7L949 2934.9L961 2941L973 2947.2L985 2953.3L997 2959.5L1009 2965.6L1021 2971.7L1033 2977.8L1045 2983.9L1057 2989.9L1069 2995.8L1081 3001.8L1093 3007.7L1105 3013.7L1117 3019.6L1129 3025.6L1141 3031.5L1153 3037.6L1165 3043.6L1177 3049.7L1189 3055.8L1201 3061.9L1213 3068L1225 3074.2L1237 3080.3L1249 3086.5L1261 3092.7L1273 3098.8L1285 3105L1297 3111.1L1309 3117.2L1321 3123.4L1333 3129.5L1345 3135.5L1357 3141.6L1369 3147.6L1381 3153.6L1393 3159.6L1405 3165.5L1417 3171.5L1429 3177.5L1441 3183.4L1453 3189.4L1465 3195.4L1477 3201.3L1489 3207.3L1501 3213.3L1513 3219.3L1525 3225.4L1537 3231.4L1549 3237.5L1561 3243.6L1573 3249.8L1585 3256L1597 3262.2L1609 3268.5L1621 3274.8L1633 3281.1L1645 3287.6L1657 3294.1L1669 3300.6L1681 3307.2L1693 3313.9L1705 3320.6L1717 3327.4L1729 3334.3L1741 3341.3L1753 3348.4L1765 3355.5L1777 3362.7L1789 3370L1801 3377.3L1813 3384.8L1825 3392.2L1837 3399.8L1849 3407.3L1861 3415L1873 3422.7L1885 3430.4L1897 3438.1L1909 3445.9L1921 3453.8L1933 3461.6L1945 3469.5L1957 3477.4L1969 3485.3L1981 3493.2L1993 3501.1L2005 3509.1L2017 3517L2029 3524.9L2041 3532.9L2053 3540.8L2065 3548.7L2077 3556.6L2089 3564.4L2101 3572.3L2103 3573.6" stroke="#0000ff" stroke-width="10.5" fill="none" stroke-linecap="round" stroke-linejoin="round"/>
<path d="M349 2476.6L361 2482.4L373 2488.1L385 2493.6L397 2499.1L409 2504.5L421 2509.8L433 2515.1L445 2520.4L457 2525.6L469 2530.8L481 2536.1L493 2541.4L505 2546.7L517 2552.1L529 2557.6L541 2563.1L553 2568.8L565 2574.5L577 2580.4L589 2586.3L601 2592.2L613 2598.2L625 2604.2L637 2610.3L649 2616.3L661 2622.4L673 2628.5L685 2634.7L697 2640.9L709 2647.3L721 2653.7L733 2660.3L745 2667L757 2673.9L769 2681L781 2688.1L793 2695.4L805 2702.8L817 2710.3L829 2717.9L841 2725.5L853 2733.2L865 2740.9L877 2748.7L889 2756.6L901 2764.4L913 2772.3L925 2780.3L937 2788.3L949 2796.3L961 2804.3L973 2812.4L985 2820.5L997 2828.6L1009 2836.7L1021 2844.8L1033 2852.9L1045 2861.1L1057 2869.2L1069 2877.4L1081 2885.5L1093 2893.6L1105 2901.8L1117 2909.9L1129 2918L1141 2926.1L1153 2934.1L1165 2942.1L1177 2950.1L1189 2958.1L1201 2966.1L1213 2974L1225 2981.8L1237 2989.7L1249 2997.4L1261 3005.2L1273 3012.9L1285 3020.5L1297 3028.1L1309 3035.7L1321 3043.3L1333 3050.8L1345 3058.3L1357 3065.8L1369 3073.3L1381 3080.8L1393 3088.3L1405 3095.7L1417 3103.2L1429 3110.6L1441 3118.1L1453 3125.6L1465 3133.1L1477 3140.5L1489 3148.1L1501 3155.6L1513 3163.2L1525 3170.8L1537 3178.4L1549 3186L1561 3193.7L1573 3201.5L1585 3209.2L1597 3217.1L1609 3224.9L1621 3232.9L1633 3240.8L1645 3248.9L1657 3257L1669 3265.2L1681 3273.4L1693 3281.7L1705 3290.1L1717 3298.6L1729 3307.1L1741 3315.8L1753 3324.5L1765 3333.3L1777 3342.2L1789 3351.2L1801 3360.2L1813 3369.4L1825 3378.6L1837 3387.8L1849 3397.1L1861 3406.5L1873 3415.9L1885 3425.3L1897 3434.8L1909 3444.4L1921 3454L1933 3463.6L1945 3473.2L1957 3482.9L1969 3492.6L1981 3502.2L1993 3511.9L2005 3521.5L2017 3531.1L2029 3540.6L2041 3550.1L2053 3559.5L2065 3568.8L2077 3578L2089 3587.2L2101 3596.3L2103 3597.8" stroke="#00ffff" stroke-width="10.5" fill="none" stroke-linecap="round" stroke-linejoin="round"/>
<text y="4158" style="font-family:'Liberation Serif',serif" font-size="86"><tspan x="1147.3">(</tspan><tspan x="1173.2" font-weight="bold">b</tspan><tspan x="1225.4">)</tspan></text>
</g>
</svg>
</body></html>
